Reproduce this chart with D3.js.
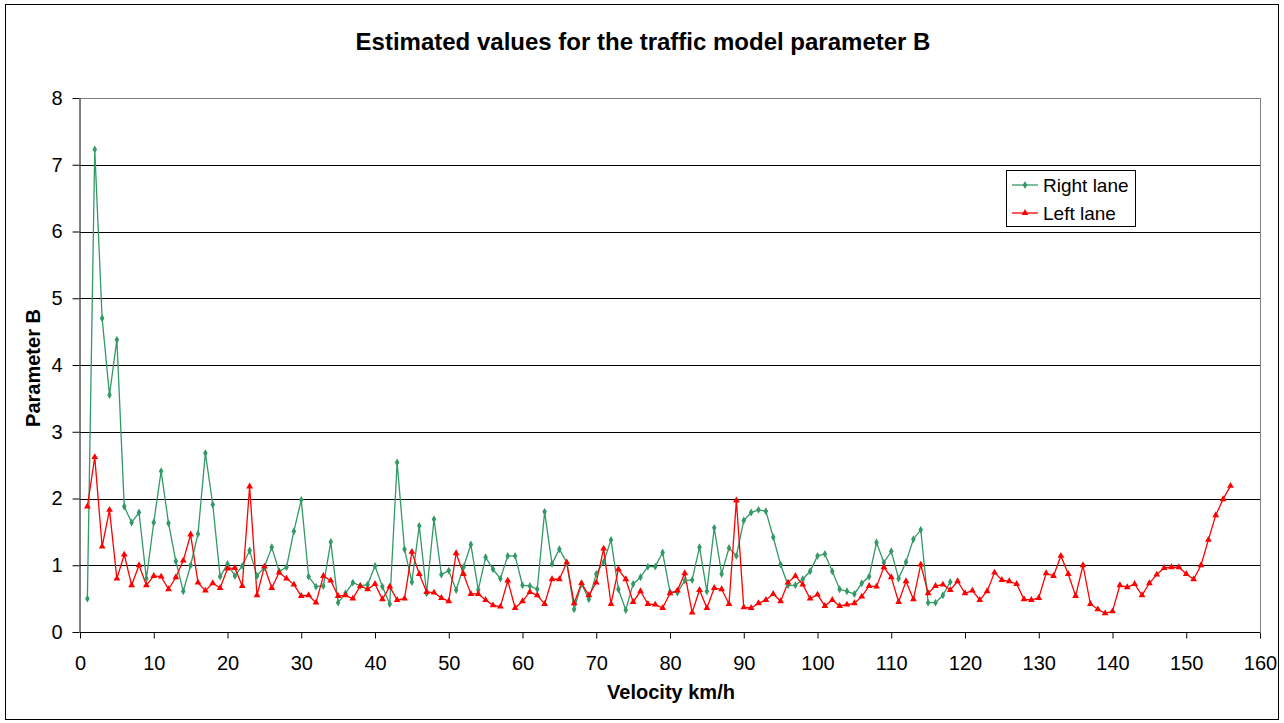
<!DOCTYPE html>
<html><head><meta charset="utf-8">
<script src="https://cdn.jsdelivr.net/npm/d3@7"></script>
<style>body{margin:0;background:#fff}svg{display:block;font-family:"Liberation Sans",Arial,sans-serif}</style>
</head><body>
<script>
const rightLane = [0.50,7.23,4.70,3.55,4.38,1.88,1.64,1.79,0.80,1.64,2.41,1.63,1.06,0.61,1.00,1.47,2.68,1.91,0.83,1.02,0.84,0.99,1.22,0.84,0.97,1.27,0.91,0.97,1.51,1.98,0.83,0.68,0.69,1.35,0.44,0.58,0.74,0.69,0.71,0.99,0.68,0.42,2.54,1.24,0.75,1.59,0.58,1.69,0.86,0.92,0.63,0.97,1.31,0.63,1.12,0.94,0.80,1.14,1.14,0.70,0.69,0.64,1.80,1.02,1.24,1.04,0.34,0.72,0.49,0.87,1.05,1.38,0.64,0.33,0.72,0.82,0.98,0.98,1.19,0.60,0.59,0.77,0.78,1.27,0.61,1.56,0.87,1.26,1.14,1.67,1.79,1.83,1.81,1.42,1.01,0.70,0.70,0.79,0.91,1.14,1.17,0.91,0.64,0.61,0.57,0.73,0.83,1.34,1.04,1.21,0.80,1.05,1.39,1.53,0.44,0.44,0.55,0.75];
const leftLane = [1.88,2.62,1.28,1.83,0.80,1.16,0.70,1.00,0.70,0.84,0.83,0.64,0.82,1.07,1.46,0.74,0.62,0.73,0.66,0.95,0.96,0.69,2.18,0.55,0.98,0.66,0.89,0.80,0.71,0.54,0.55,0.44,0.84,0.77,0.54,0.55,0.50,0.69,0.64,0.72,0.49,0.68,0.48,0.50,1.20,0.87,0.60,0.59,0.51,0.46,1.18,0.87,0.57,0.57,0.48,0.40,0.38,0.77,0.36,0.46,0.60,0.55,0.42,0.79,0.79,1.04,0.43,0.73,0.55,0.74,1.25,0.42,0.94,0.79,0.45,0.61,0.42,0.41,0.36,0.58,0.62,0.88,0.29,0.63,0.36,0.66,0.64,0.42,1.97,0.37,0.36,0.43,0.48,0.57,0.46,0.74,0.84,0.71,0.50,0.56,0.39,0.48,0.39,0.41,0.43,0.53,0.69,0.68,0.97,0.82,0.45,0.76,0.49,1.01,0.58,0.69,0.71,0.63,0.76,0.58,0.62,0.48,0.61,0.89,0.78,0.76,0.72,0.49,0.48,0.51,0.88,0.84,1.14,0.87,0.54,1.00,0.42,0.34,0.28,0.31,0.70,0.67,0.72,0.55,0.73,0.86,0.96,0.97,0.97,0.87,0.79,1.00,1.38,1.75,1.99,2.19];
const xTicks = [0,10,20,30,40,50,60,70,80,90,100,110,120,130,140,150,160];
const yTicks = [0,1,2,3,4,5,6,7,8];
const seriesNames = ["Right lane","Left lane"];
const title = "Estimated values for the traffic model parameter B";
const xLabel = "Velocity km/h";
const yLabel = "Parameter B";

const W = 1284, H = 723;
const L = 80, R = 1260, T = 98, B = 632;
const svg = d3.select("body").append("svg").attr("width", W).attr("height", H);
svg.append("rect").attr("x",5.5).attr("y",4.5).attr("width",1273).attr("height",715)
  .attr("fill","#fff").attr("stroke","#000").attr("stroke-width",1);

const x = d3.scaleLinear().domain([0,160]).range([L,R]);
const y = d3.scaleLinear().domain([0,8]).range([B,T]);

// gridlines
svg.append("g").selectAll("line").data(yTicks.filter(d=>d>0)).join("line")
  .attr("x1",L).attr("x2",R).attr("y1",d=>Math.round(y(d))+0.5).attr("y2",d=>Math.round(y(d))+0.5)
  .attr("stroke",d=>d===8?"#808080":"#000").attr("stroke-width",1);
// right border
svg.append("line").attr("x1",R+0.5).attr("x2",R+0.5).attr("y1",T).attr("y2",B).attr("stroke","#808080");

// axes
const xAxis = d3.axisBottom(x).tickValues(xTicks).tickSize(6).tickSizeOuter(0);
const gx = svg.append("g").attr("transform",`translate(0,${B+0.5})`).call(xAxis);
gx.selectAll("text").attr("font-size",20).attr("y",37).attr("dy","0").attr("fill","#000");
gx.selectAll("line,path").attr("stroke","#000");
const yAxis = d3.axisLeft(y).tickValues(yTicks).tickSize(7).tickSizeOuter(0);
const gy = svg.append("g").attr("transform",`translate(${L-0.5},0)`).call(yAxis);
gy.selectAll("text").attr("font-size",20).attr("x",-17).attr("fill","#000");
gy.selectAll("line,path").attr("stroke","#000");
gx.select(".domain").attr("d",`M${L},0H${R}`);

const green = "#339966", red = "#ff0000";
const line = d3.line().x((d,i)=>x(i+1)).y(d=>y(d));
svg.append("path").datum(rightLane).attr("d",line).attr("fill","none").attr("stroke",green).attr("stroke-width",1.3);
svg.append("path").datum(leftLane).attr("d",line).attr("fill","none").attr("stroke",red).attr("stroke-width",1.3);

const diamond = d3.symbol().type(d3.symbolDiamond).size(18);
const tri = d3.symbol().type(d3.symbolTriangle).size(20);
svg.append("g").selectAll("path").data(rightLane).join("path")
  .attr("transform",(d,i)=>`translate(${x(i+1)},${y(d)})`).attr("d",diamond).attr("fill",green);
svg.append("g").selectAll("path").data(leftLane).join("path")
  .attr("transform",(d,i)=>`translate(${x(i+1)},${y(d)})`).attr("d",tri).attr("fill",red);

// title & labels
svg.append("text").attr("x",643).attr("y",50).attr("text-anchor","middle")
  .attr("font-size",24).attr("font-weight","bold").text(title);
svg.append("text").attr("x",671).attr("y",699).attr("text-anchor","middle")
  .attr("font-size",20).attr("font-weight","bold").text(xLabel);
svg.append("text").attr("transform","translate(40,368) rotate(-90)").attr("text-anchor","middle")
  .attr("font-size",20).attr("font-weight","bold").text(yLabel);

// legend
const lg = svg.append("g");
lg.append("rect").attr("x",1006.5).attr("y",170.5).attr("width",129).attr("height",56)
  .attr("fill","#fff").attr("stroke","#000");
const colors = [green, red];
seriesNames.forEach((n,i)=>{
  const cy = 185 + i*28;
  lg.append("line").attr("x1",1012).attr("x2",1038).attr("y1",cy).attr("y2",cy).attr("stroke",colors[i]).attr("stroke-width",1.3);
  lg.append("path").attr("transform",`translate(1025,${cy})`).attr("d",i===0?diamond:tri).attr("fill",colors[i]);
  lg.append("text").attr("x",1043).attr("y",cy+7).attr("font-size",19).text(n);
});
</script>
</body></html>
